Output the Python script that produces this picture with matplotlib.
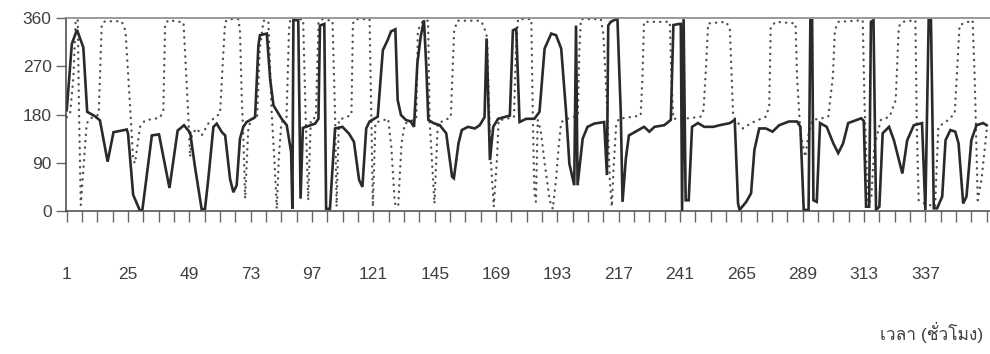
import numpy as np
import matplotlib
matplotlib.use("Agg")
import matplotlib.pyplot as plt
from matplotlib import font_manager
from matplotlib.ft2font import FT2Font

# solid line: hour, value
solid_h = [1, 3, 5, 7.5, 9, 12, 14, 17, 19.3, 24.5, 25, 27, 29.7, 30.6, 34.3, 37.1,
           41.2, 44.4, 46.9, 49.3, 51.2, 53.8, 55.1, 56.4, 58.4, 59.7, 61.7, 63,
           64.9, 66.2, 67.5, 68.8, 70.1, 71.4, 74.7, 76, 76.6, 79.3, 80.6, 81.9,
           85.1, 87.1, 88.8, 89.3, 89.7, 91.6, 92.5, 93.4, 98.2, 99.5, 100.1, 101.8,
           102.5, 104, 106, 108.9, 111.5, 113.4, 115.4, 116.7, 118.2, 119.5, 122.7,
           124.7, 126.6, 127.9, 129.6, 130.5, 131.8, 133.7, 135.6, 136.9, 138.2,
           139.5, 140.8, 141.7, 142.5, 144.5, 147, 149.5, 151.8, 152.5, 154.3,
           155.6, 158, 160.7, 162.6, 164.5, 165.3, 166.6, 167.9, 169.8, 174.4,
           175.6, 176.9, 178.2, 180.8, 184, 186, 188, 190.6, 192.5, 194.5, 196.4,
           197.7, 199, 199.6, 200.3, 200.9, 202.9, 204.8, 207.4, 211.3, 212.4,
           212.9, 213.9, 216.5, 217.8, 218.5, 219.8, 221, 224.3, 226.9, 229, 231,
           234.8, 237.4, 238.4, 240.6, 241.3, 241.8, 242.4, 243.2, 244.4, 245.7,
           248, 250.5, 254, 256.5, 260.5, 262.4, 263.7, 264.3, 266.9, 268.8, 270.1,
           272, 274.6, 277.2, 279.8, 283.6, 286.8, 288.1, 289.4, 291.3, 292, 292.7,
           293.2, 294.5, 295.8, 298.4, 301, 302.9, 304.8, 306.8, 311.9, 312.9,
           313.8, 315, 315.7, 316.7, 317.7, 319, 320.3, 322.8, 324.7, 328, 329.9,
           332.5, 335.7, 337, 338.3, 339.2, 340.3, 341.6, 343.6, 344.9, 346.8,
           348.7, 350, 351.8, 353.1, 355, 357, 359.6, 361]
solid_v = [188, 312, 338, 305, 185, 177, 169, 92, 147, 152, 144, 30, 0, 2, 141, 143,
           43, 150, 160, 146, 82, 3, 4, 60, 157, 163, 147, 141,
           60, 35, 48, 135, 157, 166, 175, 309, 328, 331, 246, 197,
           172, 160, 110, 4, 356, 356, 23, 155, 163, 172, 346, 349,
           4, 4, 154, 157, 144, 129, 58, 45, 154, 167, 176,
           300, 319, 335, 339, 207, 179, 170, 167, 157, 275,
           325, 356, 269, 170, 164, 160, 145, 64, 61, 126,
           151, 157, 154, 160, 175, 322, 95, 157, 172, 178,
           337, 340, 166, 172, 172, 185, 303, 331, 328, 303, 185,
           88, 60, 48, 346, 48, 135, 157, 163, 166, 67,
           346, 353, 359, 185, 17, 98, 141, 150, 157, 148, 157,
           160, 170, 347, 349, 349, 0, 358, 20, 20, 157,
           164, 157, 157, 160, 164, 170, 14, 2, 17, 33, 114,
           154, 154, 148, 160, 167, 167, 157, 2, 2, 356, 356,
           20, 17, 164, 157, 126, 108, 126, 164, 173, 168,
           8, 8, 353, 356, 2, 8, 145, 157, 132, 70, 132,
           160, 164, 2, 356, 356, 5, 5, 27, 132, 151,
           148, 126, 14, 27, 132, 160, 164, 160]

# dotted line: hour, value
dot_h = [1, 2.3, 3.6, 4.5, 5.3, 5.8, 6.5, 7.5, 8.8, 10, 13.5, 14, 14.7, 16, 22.5,
         24, 25.8, 27, 27.7, 29.7, 31.6, 37.5, 38.8, 39.5, 40.8, 46.7, 48.6, 49.3,
         50, 51.9, 53.8, 56.4, 58.8, 61, 62.3, 63, 64.3, 68.2, 68.8, 69.5, 70.1,
         70.8, 72, 73, 75.5, 76.5, 78, 79.9, 81.2, 82.5, 83.2, 84, 85, 87, 88,
         88.5, 93.5, 94.5, 95.5, 96.5, 98.5, 99.5, 100.5, 105, 106, 106.6, 107.5,
         112.4, 113, 114, 119.5, 120.2, 120.8, 121.8, 126.8, 128, 129.4, 130.7,
         132, 133.3, 137.8, 138.4, 140.4, 142.4, 143, 144.9, 146.2, 151.3, 152.6,
         153.9, 163, 164.2, 165.5, 166.8, 168.1, 169.4, 170, 176, 176.8, 177.6,
         182.8, 183.4, 184, 184.6, 185.3, 186.5, 188, 190, 191.2, 192.5, 193.5,
         194.5, 197, 201, 201.6, 202.2, 210, 211, 212.6, 213.5, 214.3, 215, 216,
         217, 225.6, 226.3, 226.9, 237, 237.6, 238.4, 244.4, 249, 250.2, 251.3,
         252, 259, 260.5, 261.8, 263, 265.6, 268.8, 274.6, 275.9, 276.5, 278.5,
         286.2, 286.8, 288.1, 290, 291.5, 293, 296.5, 299, 300.8, 301.6, 303,
         312.5, 313.2, 314.5, 315.8, 317, 319.6, 323, 325.4, 326.6, 328, 333.1,
         333.7, 334.4, 336, 340.8, 342.1, 346, 348.5, 349.5, 350.4, 355.5, 356.3,
         357, 357.5, 359, 361]
dot_v = [175, 181, 250, 355, 358, 188, 11, 76, 163, 172, 180, 250, 349, 354, 354,
         336, 194, 95, 89, 157, 169, 174, 188, 349, 356, 352, 175, 101,
         144, 154, 141, 163, 174, 182, 297, 353, 358, 358, 334, 210, 141,
         23, 150, 170, 175, 300, 355, 355, 184, 73, 4, 100, 165, 175, 340,
         358, 358, 175, 20, 170, 175, 350, 358, 355, 180, 8, 170,
         179, 350, 358, 358, 176, 8, 165, 172, 120, 14, 8,
         126, 163, 172, 337, 355, 355, 169, 14, 163, 175, 337,
         355, 355, 345, 324, 107, 8, 100, 169, 175, 300, 358,
         358, 172, 35, 17, 170, 150, 90, 20, 4, 60, 120,
         166, 172, 178, 300, 358, 358, 330, 180, 60, 8, 80, 160,
         172, 178, 250, 353, 353, 250, 172, 173, 176, 188, 280,
         350, 353, 340, 176, 168, 154, 164, 176, 195, 344, 353,
         350, 250, 145, 101, 150, 170, 173, 176, 250, 338, 353,
         356, 200, 14, 20, 120, 170, 176, 207, 344, 353, 356,
         145, 20, 15, 8, 157, 170, 182, 270, 347, 356, 250,
         114, 20, 60, 150]

y_ticks = [0, 90, 180, 270, 360]
x_ticks = list(range(1, 362, 6))
x_labels = [str(t) if (t - 1) % 24 == 0 and t < 350 else "" for t in x_ticks]
x_title = "เวลา (ชั่วโมง)"

# find something that can draw Thai
thai = None
for f in font_manager.fontManager.ttflist:
    try:
        if 0x0E40 in FT2Font(f.fname).get_charmap():
            thai = f.name
            break
    except Exception:
        continue
fams = ["Liberation Sans", "DejaVu Sans"]
if thai:
    fams = ["Liberation Sans", thai, "DejaVu Sans"]
plt.rcParams["font.family"] = fams

fig = plt.figure(figsize=(9.9, 3.54), dpi=100)
ax = fig.add_axes([0.0662, 0.404, 0.9338, 0.545])

ax.plot(dot_h, dot_v, color="#505050", lw=1.7, linestyle=(0, (0.1, 2.6)),
        dash_capstyle="round")
ax.plot(solid_h, solid_v, color="#2a2a2a", lw=1.9, solid_joinstyle="miter")

ax.set_xlim(0.53, 362.3)
ax.set_ylim(0, 360)
ax.set_yticks(y_ticks)
ax.set_xticks(x_ticks)
ax.set_xticklabels(x_labels)

ax.tick_params(axis="y", length=7, width=1, color="#666666", labelsize=12.5,
               labelcolor="#404040", pad=3)
ax.tick_params(axis="x", length=8, width=1, color="#666666", labelsize=12.5,
               labelcolor="#404040", pad=32)

for s in ["left", "bottom"]:
    ax.spines[s].set_color("#444444")
    ax.spines[s].set_linewidth(1.1)
ax.spines["right"].set_visible(False)
ax.spines["top"].set_color("#888888")
ax.spines["top"].set_linestyle((0, (1, 1)))
ax.spines["top"].set_linewidth(1.2)

fig.text(0.993, 0.03, x_title, ha="right", va="bottom", fontsize=12.5,
         color="#404040")

fig.savefig("out.png", dpi=100)
